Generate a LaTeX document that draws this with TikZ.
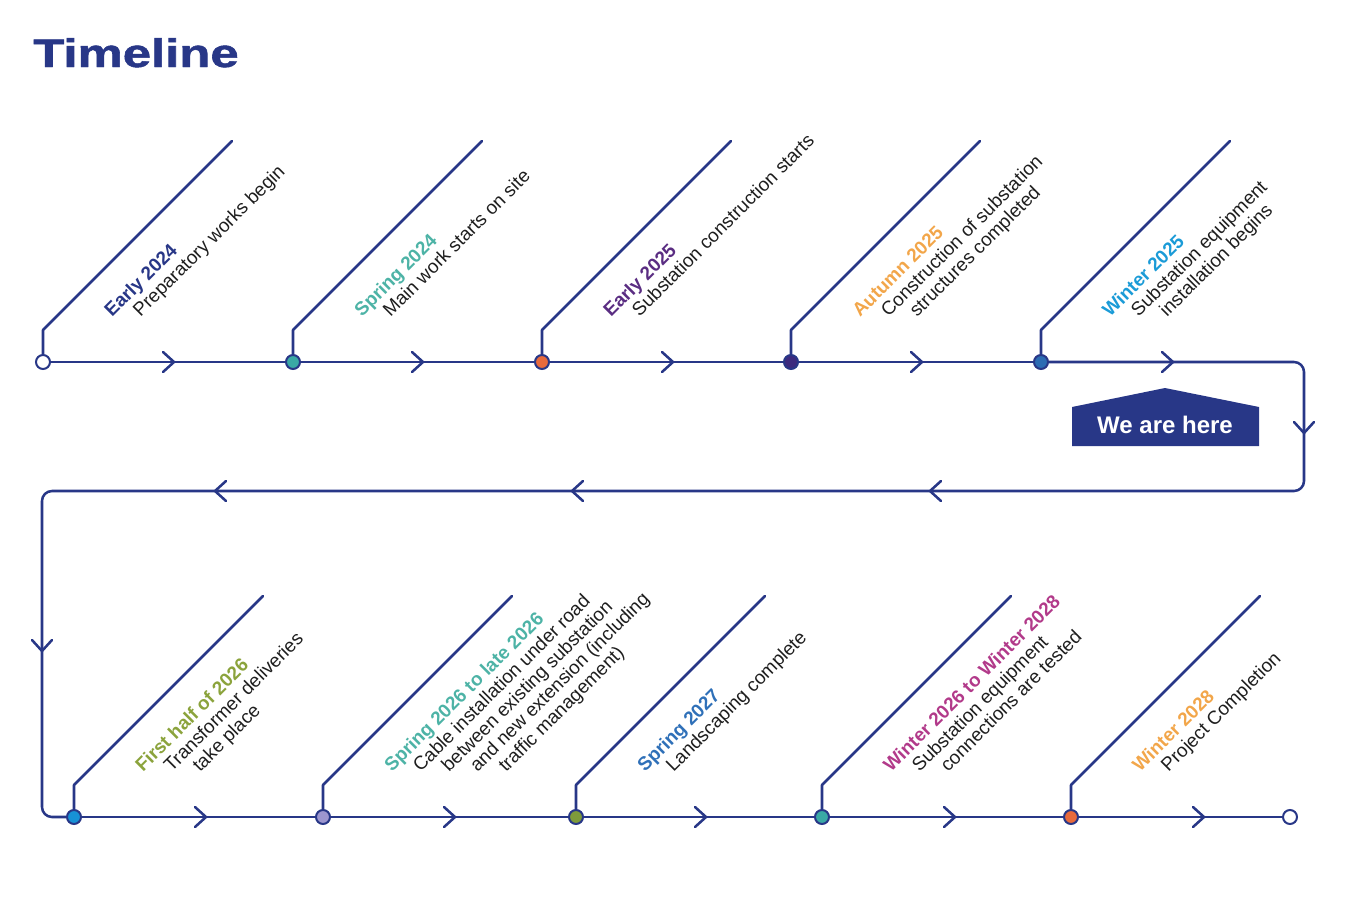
\documentclass[tikz,border=0pt]{standalone}
\usepackage{fontspec}
\setmainfont{Liberation Sans}
\newfontfamily\titlefont[FakeBold=1.2]{Liberation Sans Bold}
\usepackage{graphicx}
\definecolor{navy}{HTML}{283787}
\definecolor{txt}{HTML}{1E1E1E}
\definecolor{cteal}{HTML}{4DB3A6}
\definecolor{dteal}{HTML}{3AA9A5}
\definecolor{cpurple}{HTML}{5A2D82}
\definecolor{corange}{HTML}{F2A64A}
\definecolor{dorange}{HTML}{E86A3C}
\definecolor{ccyan}{HTML}{1B9BD7}
\definecolor{cgreen}{HTML}{8BA33C}
\definecolor{dolive}{HTML}{7E9B3A}
\definecolor{cblue}{HTML}{2F70B8}
\definecolor{cmagenta}{HTML}{B23A8A}
\definecolor{dlav}{HTML}{9D96CF}
\definecolor{dblue}{HTML}{2C6CB3}
\definecolor{dsky}{HTML}{1791D6}
\definecolor{dpurple}{HTML}{3D2A7E}
\tikzset{
  track/.style={draw=navy, line width=1.9pt, line cap=round, line join=round},
  dot/.style={circle, draw=navy, line width=1.5pt, minimum size=10.5pt, inner sep=0pt},
  lbl/.style={rotate=45, anchor=base west, inner sep=0pt, text=txt,
    font=\fontsize{14.2}{16}\selectfont},
  datelbl/.style={lbl, font=\fontsize{14.2}{16}\selectfont\bfseries},
  chev/.pic={\draw[track] (-5,-10) -- (6,0) -- (-5,10);},
}
\newcommand\evt[6]{%
  \node[datelbl, text=#4] (#1-d) at (#2+69, #3-44) {#5};
  \foreach \t [count=\i] in {#6} {
    \node[lbl] (#1-\i) at (#2+69+28.5*\i, #3-44) {\t};
  }
}
\begin{document}
\begin{tikzpicture}[x=0.75pt, y=-0.75pt]
\useasboundingbox (0,0) rectangle (1360,907);
% title
\node[anchor=base west, inner sep=0pt, text=navy] (title) at (33,67)
  {\scalebox{1.28}[1]{\fontsize{29.8}{30}\selectfont\titlefont Timeline}};
% dots top
\node[dot, fill=white]   (d0) at (43,362) {};
\node[dot, fill=dteal]   (d1) at (293,362) {};
\node[dot, fill=dorange] (d2) at (542,362) {};
\node[dot, fill=dpurple] (d3) at (791,362) {};
\node[dot, fill=dblue]   (d4) at (1041,362) {};
% dots bottom
\node[dot, fill=dsky]    (b0) at (74,817) {};
\node[dot, fill=dlav]    (b1) at (323,817) {};
\node[dot, fill=dolive]  (b2) at (576,817) {};
\node[dot, fill=dteal]   (b3) at (822,817) {};
\node[dot, fill=dorange] (b4) at (1071,817) {};
\node[dot, fill=white]   (b5) at (1290,817) {};
% corners
\coordinate (c1) at (1304,362);
\coordinate (c2) at (1304,491);
\coordinate (c3) at (42,491);
\coordinate (c4) at (42,817);
% track
\draw[track] (d0) -- (d1) -- (d2) -- (d3) -- (d4);
\draw[track, rounded corners=7.5pt] (d4) -- (c1) -- (c2) -- (c3) -- (c4) -- (b0);
\draw[track] (b0) -- (b1) -- (b2) -- (b3) -- (b4) -- (b5);
% chevrons
\foreach \x in {168,417,667,916,1167} \pic at (\x,362) {chev};
\foreach \x in {200,449,700,949,1198} \pic at (\x,817) {chev};
\foreach \x in {221,578,936} \pic[rotate=180] at (\x,491) {chev};
\pic[rotate=-90] at (1304,427) {chev};
\pic[rotate=-90] at (42,645) {chev};
% stems
\foreach \n in {d0,d1,d2,d3,d4,b0,b1,b2,b3,b4}
  \draw[track] (\n) -- ++(0,-32) -- ++(189,-189);
% labels top
\evt{e1}{43}{362}{navy}{Early 2024}{{Preparatory works begin}}
\evt{e2}{293}{362}{cteal}{Spring 2024}{{Main work starts on site}}
\evt{e3}{542}{362}{cpurple}{Early 2025}{{Substation construction starts}}
\evt{e4}{791}{362}{corange}{Autumn 2025}{{Construction of substation},{structures completed}}
\evt{e5}{1041}{362}{ccyan}{Winter 2025}{{Substation equipment},{installation begins}}
% labels bottom
\evt{f1}{74}{817}{cgreen}{First half of 2026}{{Transformer deliveries},{take place}}
\evt{f2}{323}{817}{cteal}{Spring 2026 to late 2026}{{Cable installation under road},{between existing substation},{and new extension (including},{traffic management)}}
\evt{f3}{576}{817}{cblue}{Spring 2027}{{Landscaping complete}}
\evt{f4}{822}{817}{cmagenta}{Winter 2026 to Winter 2028}{{Substation equipment},{connections are tested}}
\evt{f5}{1071}{817}{corange}{Winter 2028}{{Project Completion}}
% we are here
\fill[navy] (1072,446) -- (1072,407) -- (1165,388) -- (1259,407) -- (1259,446) -- cycle;
\node[inner sep=0pt, text=white, font=\fontsize{18}{18}\selectfont\bfseries] (here) at (1165,425) {We are here};
\end{tikzpicture}
\end{document}
